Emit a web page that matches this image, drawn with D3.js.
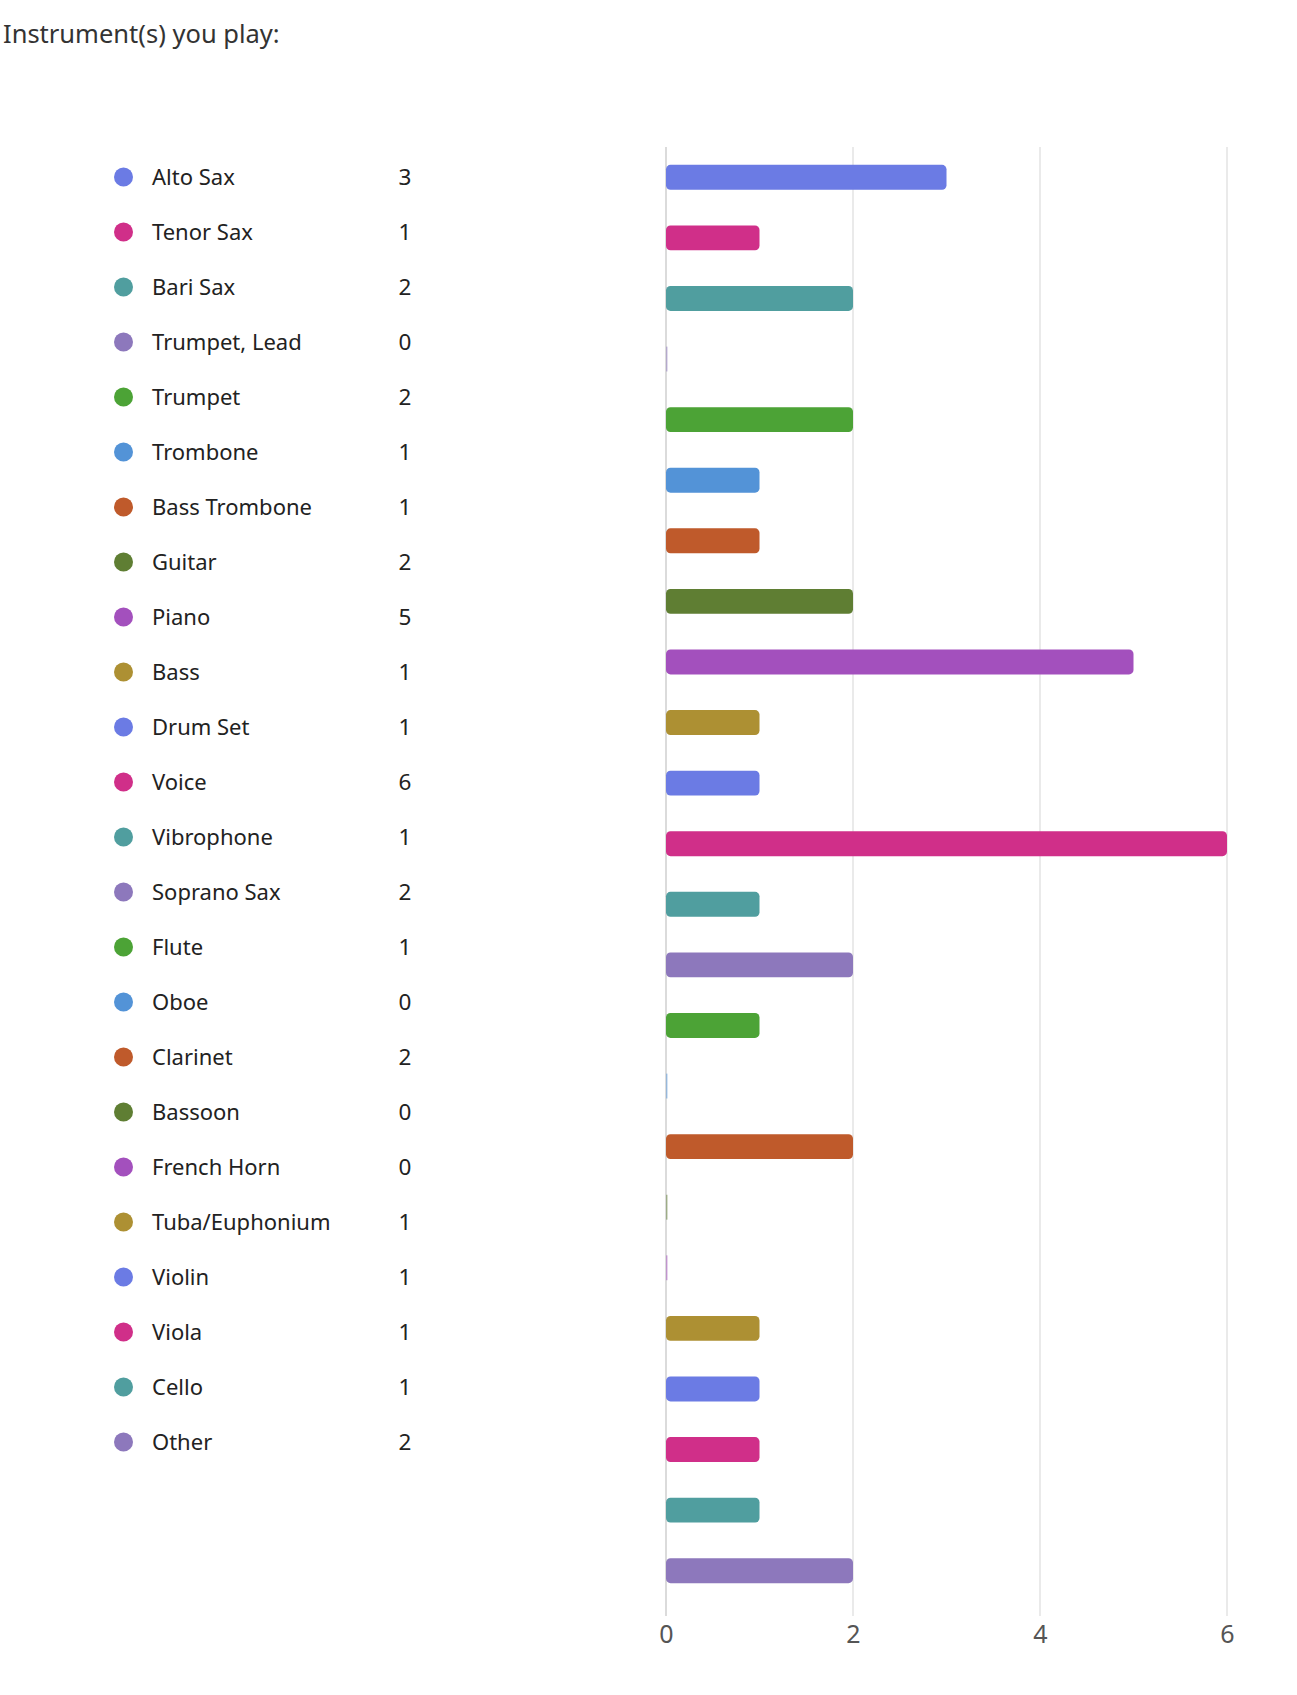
<!DOCTYPE html>
<html>
<head>
<meta charset="utf-8">
<script src="https://cdn.jsdelivr.net/npm/d3@7"></script>
<style>
  body { margin: 0; background: #fff; }
  svg text { font-family: "Noto Sans", "Open Sans", sans-serif; }
</style>
</head>
<body>
<div id="chart"></div>
<script>
const width = 1297;
const height = 1695;

// Données
const instruments = ["Alto Sax", "Tenor Sax", "Bari Sax", "Trumpet, Lead", "Trumpet", "Trombone",
  "Bass Trombone", "Guitar", "Piano", "Bass", "Drum Set", "Voice", "Vibrophone", "Soprano Sax",
  "Flute", "Oboe", "Clarinet", "Bassoon", "French Horn", "Tuba/Euphonium", "Violin", "Viola",
  "Cello", "Other"];
const counts = [3, 1, 2, 0, 2, 1, 1, 2, 5, 1, 1, 6, 1, 2, 1, 0, 2, 0, 0, 1, 1, 1, 1, 2];
const palette = ["#6b7be4", "#d02f89", "#509e9f", "#8d78bc", "#4ca336", "#5393d7",
  "#bf5a2b", "#5f7e33", "#a350bd", "#ad9033"];
const xTicks = [0, 2, 4, 6];

const svg = d3.select("#chart").append("svg")
  .attr("width", width)
  .attr("height", height);

// Titre
svg.append("text")
  .attr("x", 3)
  .attr("y", 43)
  .attr("font-size", "25.5px")
  .attr("fill", "#333")
  .text("Instrument(s) you play:");

// Légende
const legendY = d3.scalePoint()
  .domain(instruments)
  .range([177, 1442]);

const color = d3.scaleOrdinal().domain(instruments).range(palette);

const legend = svg.append("g")
  .selectAll("g")
  .data(instruments)
  .enter()
  .append("g")
  .attr("transform", d => `translate(0, ${legendY(d)})`);

legend.append("circle")
  .attr("cx", 123.5)
  .attr("r", 9.5)
  .attr("fill", d => color(d));

legend.append("text")
  .attr("x", 152)
  .attr("dy", "0.35em")
  .attr("font-size", "22px")
  .attr("fill", "#222")
  .text(d => d);

legend.append("text")
  .attr("x", 405)
  .attr("dy", "0.35em")
  .attr("text-anchor", "middle")
  .attr("font-size", "22.5px")
  .attr("fill", "#222")
  .text((d, i) => counts[i]);

// Barres
const x = d3.scaleLinear().domain([0, 6]).range([666, 1227]);
const y = d3.scaleBand()
  .domain(instruments)
  .range([147, 1601])
  .paddingInner(0.59)
  .paddingOuter(0.295);

// Grille
svg.append("g")
  .selectAll("line")
  .data(xTicks)
  .enter()
  .append("line")
  .attr("x1", d => x(d))
  .attr("x2", d => x(d))
  .attr("y1", 147)
  .attr("y2", 1616)
  .attr("stroke", d => d === 0 ? "#cfcfcf" : "#e3e3e3")
  .attr("stroke-width", 1.5);

svg.append("g")
  .selectAll("rect")
  .data(instruments)
  .enter()
  .append("rect")
  .attr("x", x(0))
  .attr("y", d => y(d))
  .attr("height", y.bandwidth())
  .attr("width", (d, i) => counts[i] === 0 ? 1.5 : x(counts[i]) - x(0))
  .attr("rx", (d, i) => counts[i] === 0 ? 0 : 4.5)
  .attr("fill", d => color(d))
  .attr("opacity", (d, i) => counts[i] === 0 ? 0.5 : 1);

// Axe
const axis = svg.append("g")
  .attr("transform", "translate(0, 1618)")
  .call(d3.axisBottom(x).tickValues(xTicks).tickSize(0).tickPadding(7).tickFormat(d3.format("d")));

axis.select(".domain").remove();
axis.selectAll("text")
  .attr("font-size", "25px")
  .attr("fill", "#555")
  .style("font-family", "\"Noto Sans\", sans-serif");
</script>
</body>
</html>
